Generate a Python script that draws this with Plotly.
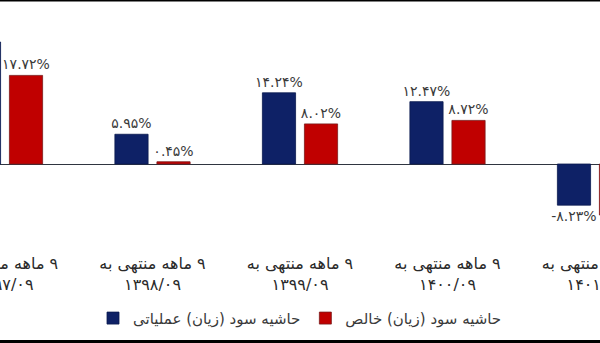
import plotly.graph_objects as go

# Periods (9-month periods ending in the ninth month of each Persian year)
periods = ["۱۳۹۷/۰۹", "۱۳۹۸/۰۹", "۱۳۹۹/۰۹", "۱۴۰۰/۰۹", "۱۴۰۱/۰۹"]
period_prefix = "۹ ماهه منتهی به"

# Margins in percent
operating_margin = [24.4, 5.95, 14.24, 12.47, -8.23]
net_margin = [17.72, 0.45, 8.02, 8.72, -10.2]

series_names = ["حاشیه سود (زیان) عملیاتی", "حاشیه سود (زیان) خالص"]

FA_DIGITS = str.maketrans("0123456789", "۰۱۲۳۴۵۶۷۸۹")
RLM = "\u200f"


def fa_pct(v):
    return f"{v:.2f}%".translate(FA_DIGITS)


FONT = "DejaVu Sans"
TEXT_COLOR = "#3a3a3a"
x = list(range(len(periods)))
# RLM keeps the leading digit on the right-hand side of the Persian phrase
ticktext = [f"{RLM}{period_prefix}<br>{p}" for p in periods]

fig = go.Figure()
fig.add_trace(go.Bar(
    x=x, y=operating_margin, name=series_names[0],
    marker=dict(color="#0e2166", line=dict(color="#0a1a4f", width=0.8)),
    text=[fa_pct(v) for v in operating_margin], textposition="outside",
    constraintext="none",
    textfont=dict(family=FONT, size=14, color=TEXT_COLOR),
    cliponaxis=False,
))
fig.add_trace(go.Bar(
    x=x, y=net_margin, name=series_names[1],
    marker=dict(color="#c00000", line=dict(color="#7a1a1a", width=0.8)),
    text=[fa_pct(v) for v in net_margin], textposition="outside",
    constraintext="none",
    textfont=dict(family=FONT, size=14, color=TEXT_COLOR),
    cliponaxis=False,
))

fig.update_layout(
    width=600, height=343,
    margin=dict(l=0, r=0, t=0, b=100, autoexpand=False),
    paper_bgcolor="white", plot_bgcolor="white",
    barmode="group", bargap=0.43, bargroupgap=0.21,
    font=dict(family=FONT, size=14, color=TEXT_COLOR),
    showlegend=True,
    legend=dict(orientation="h", x=0.5, xanchor="center", y=-0.31, yanchor="middle",
                font=dict(family=FONT, size=15, color=TEXT_COLOR),
                itemclick=False, traceorder="normal"),
    xaxis=dict(range=[-0.0339, 4.0339], tickmode="array", tickvals=x, ticktext=ticktext,
               showgrid=False, showline=False, zeroline=False, ticks="",
               tickfont=dict(family=FONT, size=16, color="#2a2a2a"),
               ticklabelstandoff=9, ticklabeloverflow="allow", automargin=False),
    yaxis=dict(range=[-15.8, 32.8], showgrid=False, showticklabels=False, ticks="",
               zeroline=True, zerolinecolor="#2f3540", zerolinewidth=1, showline=False,
               automargin=False),
    shapes=[
        dict(type="rect", xref="paper", yref="paper", x0=-0.01, x1=1.01,
             y0=1.0, y1=1.0 - 1.5 / 243, fillcolor="black", line_width=0, layer="above"),
        dict(type="rect", xref="paper", yref="paper", x0=-0.01, x1=1.01,
             y0=(243 - 340) / 243, y1=(243 - 344) / 243, fillcolor="black", line_width=0,
             layer="above"),
    ],
)

fig.write_html("out.html")
